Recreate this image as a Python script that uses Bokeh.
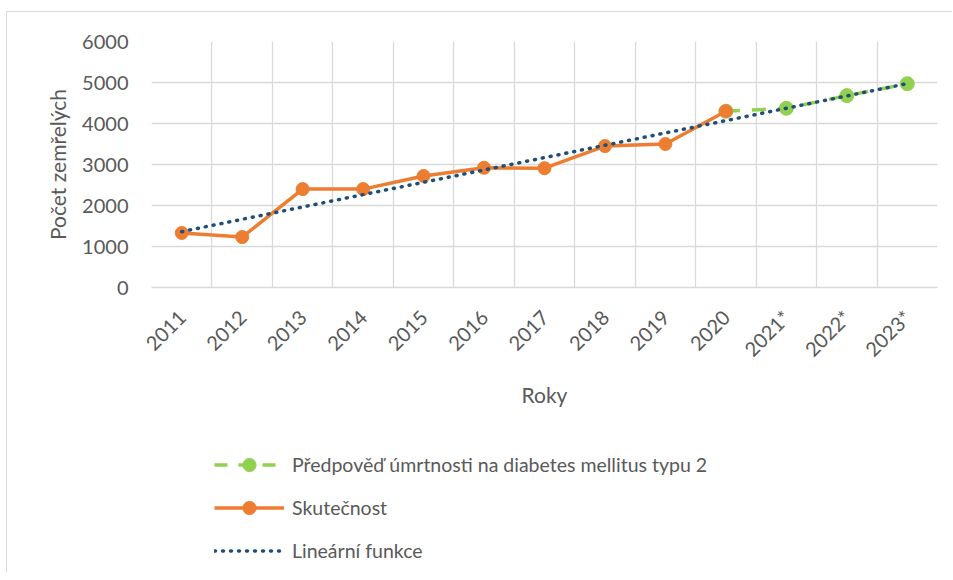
import numpy as np
from math import pi
from bokeh.plotting import figure
from bokeh.layouts import column
from bokeh.models import (FixedTicker, Legend, LegendItem, Range1d)
from bokeh.embed import file_html
from bokeh.resources import INLINE

# ---- data ----
years = ["2011", "2012", "2013", "2014", "2015", "2016", "2017", "2018", "2019",
         "2020", "2021*", "2022*", "2023*"]
actual = [1330, 1230, 2400, 2400, 2720, 2920, 2910, 3450, 3500, 4300]
forecast_years = ["2020", "2021*", "2022*", "2023*"]
forecast = [4300, 4370, 4680, 4970]
y_ticks = [0, 1000, 2000, 3000, 4000, 5000, 6000]
labels = ["Předpověď úmrtnosti na diabetes mellitus typu 2",
          "Skutečnost", "Lineární funkce"]

FONT = "Lato"
TXT = "#595959"
GRID = "#d9d9d9"
GREEN = "#92D050"
ORANGE = "#ED7D31"
BLUE = "#1F4E79"

pos = {y: i + 0.5 for i, y in enumerate(years)}
ax = [pos[y] for y in years[:len(actual)]]
fx = [pos[y] for y in forecast_years]

# trend (Excel linear trendline over all points)
all_y = actual + forecast[1:]
all_x = [pos[y] for y in years]
k, q = np.polyfit(all_x, all_y, 1)
tx = [all_x[0], all_x[-1]]
ty = [k * tx[0] + q, k * tx[1] + q]

p = figure(width=945, height=408, output_backend="svg", toolbar_location=None,
           x_range=Range1d(0, len(years)), y_range=Range1d(0, 6000),
           frame_width=786, frame_height=246,
           min_border_left=144, min_border_top=29, min_border_right=15,
           min_border_bottom=133)
p.outline_line_color = None
p.background_fill_color = "white"
p.border_fill_color = "white"

# grids
p.ygrid.ticker = FixedTicker(ticks=y_ticks)
p.ygrid.grid_line_color = GRID
p.ygrid.grid_line_width = 1.3
p.xgrid.ticker = FixedTicker(ticks=list(range(len(years) + 1)))
p.xgrid.grid_line_color = GRID
p.xgrid.grid_line_width = 1.3

# axes
p.xaxis.ticker = FixedTicker(ticks=all_x)
p.xaxis.major_label_overrides = {pos[y]: y for y in years}
p.xaxis.major_label_orientation = pi / 4
p.xaxis.major_tick_line_color = None
p.xaxis.minor_tick_line_color = None
p.xaxis.major_tick_out = 0
p.xaxis.axis_line_color = GRID
p.xaxis.axis_line_width = 1.3
p.xaxis.axis_label = "Roky"
p.yaxis.ticker = FixedTicker(ticks=y_ticks)
p.yaxis.axis_line_color = None
p.yaxis.major_tick_line_color = None
p.yaxis.minor_tick_line_color = None
p.yaxis.major_tick_out = 0
p.yaxis.axis_label = "Počet zemřelých"
for a in (p.xaxis[0], p.yaxis[0]):
    a.major_label_text_font = FONT
    a.major_label_text_font_size = "20px"
    a.major_label_text_color = TXT
    a.axis_label_text_font = FONT
    a.axis_label_text_font_size = "21px"
    a.axis_label_text_font_style = "normal"
    a.axis_label_text_color = TXT
p.yaxis.major_label_standoff = 23
p.yaxis.axis_label_standoff = 9
p.xaxis.major_label_standoff = 26
p.xaxis.axis_label_standoff = 10

# series
p.line(fx, forecast, line_color=GREEN, line_width=3.5, line_dash="14 12")
p.scatter(fx, forecast, size=14, fill_color=GREEN, line_color=GREEN)
p.line(ax, actual, line_color=ORANGE, line_width=3.5)
p.scatter(ax, actual, size=13, fill_color=ORANGE, line_color=ORANGE)
p.line(tx, ty, line_color=BLUE, line_width=3.5, line_dash="1 7",
       line_cap="round")

# legend panel (separate figure below the chart); renderers hold
# placeholder points outside its visible range, only the legend shows
lg = figure(width=945, height=152, output_backend="svg", toolbar_location=None,
            x_range=Range1d(0, 1), y_range=Range1d(0, 1),
            frame_width=786, frame_height=152,
            min_border_left=144, min_border_right=15,
            min_border_top=0, min_border_bottom=0)
lg.axis.visible = False
lg.grid.visible = False
lg.outline_line_color = None
off = [-5, -4]
gl = lg.line(off, off, line_color=GREEN, line_width=3.5, line_dash="13 11")
gs = lg.scatter(off, off, size=14, fill_color=GREEN, line_color=GREEN)
ol = lg.line(off, off, line_color=ORANGE, line_width=3.5)
os_ = lg.scatter(off, off, size=13, fill_color=ORANGE, line_color=ORANGE)
bl = lg.line(off, off, line_color=BLUE, line_width=3.5, line_dash="1 7",
             line_cap="round")
legend = Legend(items=[
    LegendItem(label=labels[0], renderers=[gl, gs]),
    LegendItem(label=labels[1], renderers=[ol, os_]),
    LegendItem(label=labels[2], renderers=[bl]),
], orientation="vertical", location=(63, 5))
legend.label_text_font = FONT
legend.label_text_font_size = "19.5px"
legend.label_text_color = TXT
legend.glyph_width = 70
legend.glyph_height = 33
legend.label_height = 24
legend.label_standoff = 8
legend.spacing = 10
legend.border_line_color = None
legend.background_fill_alpha = 0
legend.padding = 10
legend.margin = 0
lg.add_layout(legend, "center")

layout = column(p, lg, spacing=0,
                styles={"border-top": "1px solid #d9d9d9",
                        "border-left": "1px solid #d9d9d9",
                        "margin-top": "11px", "margin-left": "6px"})
open("out.html", "w").write(file_html(layout, INLINE))
